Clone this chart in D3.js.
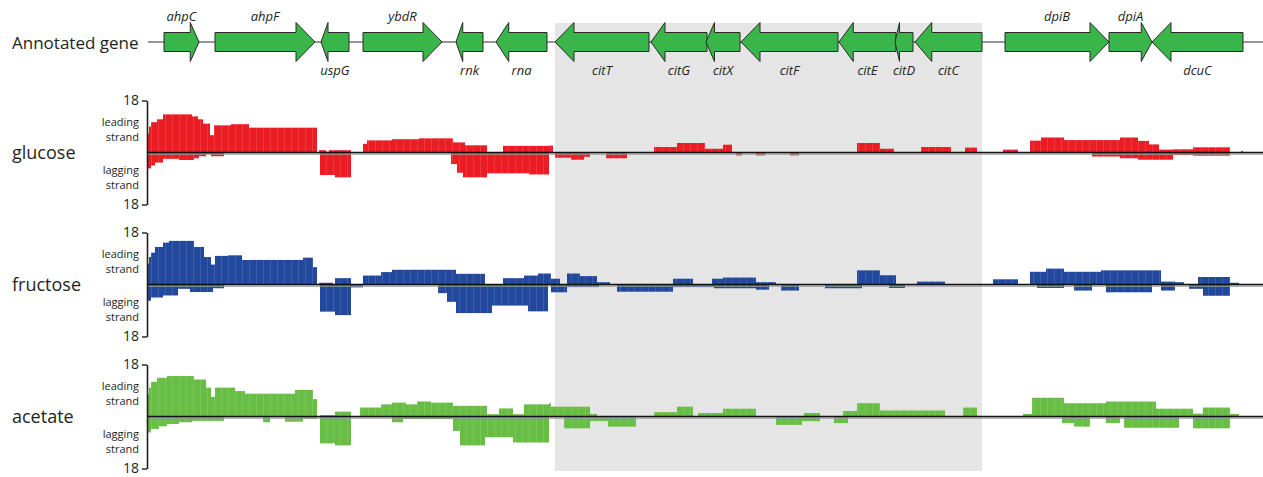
<!DOCTYPE html>
<html><head><meta charset="utf-8">
<script src="https://cdn.jsdelivr.net/npm/d3@7"></script>
<style>body{margin:0;background:#fff;} svg{display:block;font-family:'Open Sans','Noto Sans',sans-serif;}</style>
</head><body><svg id="c" width="1263" height="477"></svg>
<script>
// ---------- DATA (positions along the locus; 0..1116) ----------
const genes = [
  {name:"ahpC", start:17,  end:52,   strand:"+"},
  {name:"ahpF", start:68,  end:168,  strand:"+"},
  {name:"uspG", start:174, end:202,  strand:"-"},
  {name:"ybdR", start:216, end:295,  strand:"+"},
  {name:"rnk",  start:309, end:336,  strand:"-"},
  {name:"rna",  start:349, end:400,  strand:"-"},
  {name:"citT", start:408, end:502,  strand:"-"},
  {name:"citG", start:504, end:560,  strand:"-"},
  {name:"citX", start:559, end:593,  strand:"-"},
  {name:"citF", start:594, end:691,  strand:"-"},
  {name:"citE", start:692, end:749,  strand:"-"},
  {name:"citD", start:748, end:766,  strand:"-"},
  {name:"citC", start:768, end:835,  strand:"-"},
  {name:"dpiB", start:858, end:962,  strand:"+"},
  {name:"dpiA", start:962, end:1005, strand:"+"},
  {name:"dcuC", start:1005,end:1096, strand:"-"}
];
const highlightRegion = [408, 835];
const locusExtent = [0, 1116];
const trackNames = ["glucose", "fructose", "acetate"];
const axisMax = 18;
const axisTickLabels = ["18", "18"];

// segments: [start, end, coverage]
const glucoseLeading = [[0,2,6.5],[2,4,9],[4,10,10.5],[10,16,11.5],[16,45,13.2],[45,51,12.5],[51,56,11.5],[56,63,10],[63,67,6],[67,84,9.4],[84,102,9.8],[102,170,8.6],[172,179,0.8],[179,182,0.3],[182,190,0.8],[190,204,0.8],[216,220,3],[220,245,4.2],[245,272,4.6],[272,306,4.9],[306,318,3.5],[318,340,2.5],[356,402,2.3],[402,406,2.4],[507,530,1.9],[530,558,3.3],[558,576,1.3],[576,585,2.7],[710,733,3.3],[733,747,1.3],[774,804,1.9],[818,830,1.7],[856,871,1],[883,894,4.1],[894,917,5.2],[917,973,4.3],[973,991,5.2],[991,1002,4],[1002,1012,2.8],[1012,1026,1],[1026,1046,1.1],[1046,1083,1.8],[1094,1096,0.5]];
const glucoseLagging = [[0,4,5.5],[4,8,4.5],[8,16,3.5],[16,32,2.2],[32,47,2.6],[47,52,2],[52,59,1.3],[59,64,0.5],[64,77,1.3],[173,188,7.8],[188,204,8.6],[304,310,4],[310,316,7],[316,340,8.6],[340,382,7.2],[382,402,7.6],[408,424,1.8],[424,437,2.5],[437,443,1.5],[459,480,2],[589,595,1],[609,618,1],[643,652,1],[945,973,1.4],[973,991,2],[991,1026,2.5],[1026,1046,0.9],[1046,1083,1.1]];

const fructoseLeading = [[0,2,7.2],[2,4,9.5],[4,8,11],[8,16,13],[16,22,14.5],[22,47,15.1],[47,57,13],[57,64,9.5],[64,68,6.9],[68,81,9.9],[81,95,10.1],[95,156,8.5],[156,166,9.3],[166,170,6],[172,186,0.6],[188,204,2.2],[216,234,3.1],[234,245,4.3],[245,309,5.1],[309,338,3.7],[356,377,2.2],[377,391,3.1],[391,404,3.8],[404,413,2],[420,433,3.8],[433,450,2.9],[450,463,0.8],[526,546,2],[565,576,2],[576,609,2.4],[609,629,0.8],[710,733,4.9],[733,749,3.2],[770,798,1],[846,871,1.8],[883,899,4.4],[899,917,5.5],[917,954,4.4],[954,1014,4.9],[1014,1028,1],[1028,1037,0.8],[1051,1083,2.6],[1083,1092,0.6]];
const fructoseLagging = [[0,4,5.6],[4,16,4.5],[16,31,3.8],[31,43,1.5],[43,66,2.6],[66,77,1.3],[173,188,9.4],[188,204,10.6],[204,216,1],[291,300,3],[300,309,6],[309,345,9.9],[345,381,7.3],[381,401,9.3],[404,420,2.7],[420,452,0.9],[470,526,2.5],[526,567,0.9],[567,609,1.3],[609,622,1.8],[634,652,2.1],[678,715,1.3],[742,758,1.2],[890,917,1.2],[927,945,2.1],[959,1005,2.7],[1014,1028,2.1],[1042,1056,1.5],[1056,1083,3.9]];

const acetateLeading = [[0,2,7.7],[2,4,10],[4,10,12],[10,20,13.4],[20,47,14],[47,59,12.8],[59,64,10],[64,68,6.8],[68,88,10],[88,98,8.8],[98,148,7.9],[148,166,9.2],[166,170,6],[173,188,0.5],[188,204,1.7],[213,234,3.1],[234,245,4.2],[245,259,4.8],[259,270,4.2],[270,284,5.2],[284,306,4.8],[306,340,3.7],[340,352,0.8],[352,366,2.8],[366,377,0.8],[377,402,4.2],[402,404,4.6],[404,443,3.4],[443,450,0.9],[507,530,1.5],[530,546,3.4],[551,576,1.2],[576,609,2.7],[657,673,1.2],[696,710,1.9],[710,733,4.6],[733,798,2.1],[816,830,3.1],[876,885,0.9],[885,917,6.5],[917,959,4.6],[959,1009,5.2],[1009,1046,2.7],[1046,1056,1],[1056,1083,3.1],[1083,1092,0.9]];
const acetateLagging = [[0,4,5.5],[4,12,4.3],[12,20,3.4],[20,32,2.6],[32,45,2],[45,77,1.5],[116,123,2],[138,156,1.8],[156,170,0.8],[173,188,9.3],[188,204,10],[245,256,2],[256,306,0.9],[306,313,5],[313,338,10],[338,366,7.2],[366,402,9],[417,443,4.1],[443,461,1.6],[461,489,3.5],[629,655,2.9],[655,673,1.6],[687,701,2.3],[915,927,2.3],[927,943,3.5],[959,973,2.3],[977,1032,3.9],[1046,1083,4.1]];

const seriesLeading = [glucoseLeading, fructoseLeading, acetateLeading];
const seriesLagging = [glucoseLagging, fructoseLagging, acetateLagging];
const seriesColors = ["#ec1c24", "#21489c", "#68bd45"];
const strandLabels = [["leading", -27], ["strand", -12], ["lagging", 21], ["strand", 36]];

// ---------- DRAW ----------
const svg = d3.select("#c");
const W = 1263;
const x = d3.scaleLinear().domain(locusExtent).range([147, 1263]);

// subtle stripe patterns
const defs = svg.append("defs");
seriesColors.forEach((c, i) => {
  const p = defs.append("pattern").attr("id", "pat" + i).attr("patternUnits", "userSpaceOnUse")
    .attr("width", 7).attr("height", 10);
  p.append("rect").attr("width", 7).attr("height", 10).attr("fill", c);
  p.append("rect").attr("x", 4).attr("width", 1).attr("height", 10).attr("fill", "#fff").attr("opacity", 0.12);
});

// highlight box
svg.append("rect").attr("x", x(highlightRegion[0])).attr("y", 23)
  .attr("width", x(highlightRegion[1]) - x(highlightRegion[0])).attr("height", 448)
  .attr("fill", "#e5e5e5");

// gene row
const gy = 42, bh = 9.5, hh = 19.5;
svg.append("text").attr("x", 12).attr("y", gy + 7).attr("font-size", 17).attr("fill", "#231f20").text("Annotated gene");
svg.append("line").attr("x1", 148).attr("x2", W).attr("y1", gy).attr("y2", gy).attr("stroke", "#333").attr("stroke-width", 1.2);

function arrowPath(g) {
  const s = x(g.start), e = x(g.end), len = e - s;
  const hl = Math.min(19, len * 0.25);
  if (g.strand === "+") {
    return `M${s},${gy-bh}L${e-hl},${gy-bh}L${e-hl},${gy-hh}L${e},${gy}L${e-hl},${gy+hh}L${e-hl},${gy+bh}L${s},${gy+bh}Z`;
  }
  return `M${e},${gy-bh}L${s+hl},${gy-bh}L${s+hl},${gy-hh}L${s},${gy}L${s+hl},${gy+hh}L${s+hl},${gy+bh}L${e},${gy+bh}Z`;
}
svg.append("g").selectAll("path").data(genes).join("path")
  .attr("d", arrowPath).attr("fill", "#39b54a").attr("stroke", "#2a2a2a").attr("stroke-width", 1);
svg.append("g").selectAll("text").data(genes).join("text")
  .attr("x", d => x((d.start + d.end) / 2))
  .attr("y", d => d.strand === "+" ? 21 : 75)
  .attr("text-anchor", "middle").attr("font-style", "italic").attr("font-size", 13)
  .attr("fill", "#231f20").text(d => d.name);

// tracks
const zeros = [152.5, 284.5, 416.5];
const half = 52;
trackNames.forEach((name, i) => {
  const y0 = zeros[i];
  const y = d3.scaleLinear().domain([-axisMax, axisMax]).range([y0 + half, y0 - half]);
  const g = svg.append("g");
  g.selectAll("rect.lead").data(seriesLeading[i]).join("rect").attr("class", "lead")
    .attr("x", d => x(d[0])).attr("width", d => x(d[1]) - x(d[0]))
    .attr("y", d => y(d[2])).attr("height", d => y(0) - y(d[2]))
    .attr("fill", `url(#pat${i})`);
  g.selectAll("rect.lag").data(seriesLagging[i]).join("rect").attr("class", "lag")
    .attr("x", d => x(d[0])).attr("width", d => x(d[1]) - x(d[0]))
    .attr("y", y(0)).attr("height", d => y(-d[2]) - y(0))
    .attr("fill", `url(#pat${i})`);
  // zero line
  g.append("line").attr("x1", 147).attr("x2", W).attr("y1", y(0) + 1.6).attr("y2", y(0) + 1.6)
    .attr("stroke", "#9a9a9a").attr("stroke-width", 1.2);
  g.append("line").attr("x1", 147).attr("x2", W).attr("y1", y(0)).attr("y2", y(0))
    .attr("stroke", "#111").attr("stroke-width", 1.6);
  // axis
  const ax = g.append("g").attr("transform", "translate(147,0)")
    .call(d3.axisLeft(y).tickValues([-axisMax, axisMax]).tickFormat((d, k) => axisTickLabels[k]).tickSize(5).tickSizeOuter(0).tickPadding(3));
  ax.select(".domain").attr("stroke", "#231f20").attr("stroke-width", 1.6);
  ax.selectAll(".tick line").attr("stroke", "#231f20").attr("stroke-width", 1.4);
  ax.selectAll(".tick text").attr("font-size", 14).attr("fill", "#231f20").attr("font-family", "'Open Sans',sans-serif");
  // strand labels
  g.selectAll("text.sl").data(strandLabels).join("text").attr("class", "sl")
    .attr("x", 139).attr("y", d => y0 + d[1]).attr("text-anchor", "end")
    .attr("font-size", 11).attr("fill", "#231f20").text(d => d[0]);
  g.append("text").attr("x", 12).attr("y", y0 + 6.5).attr("font-size", 18).attr("fill", "#231f20").text(name);
});
</script>
</body></html>
